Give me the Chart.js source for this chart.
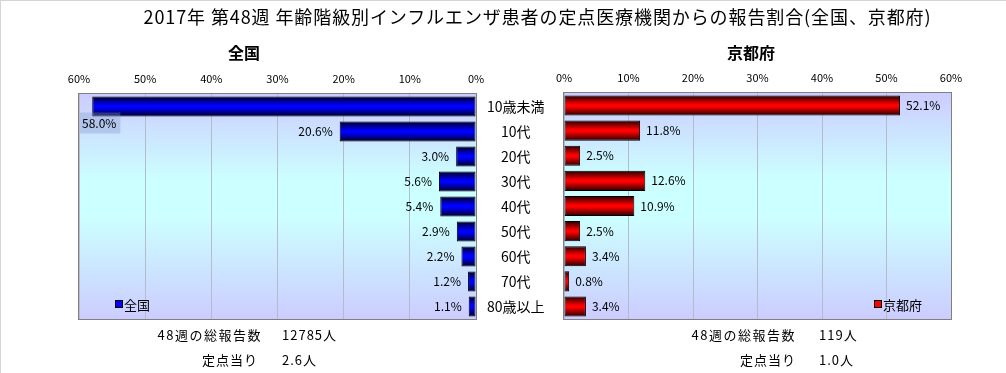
<!DOCTYPE html>
<html>
<head>
<meta charset="utf-8">
<script src="https://cdn.jsdelivr.net/npm/chart.js@4"></script>
<style>
  html, body { margin: 0; padding: 0; background: #fff; }
  body { width: 1006px; height: 373px; position: relative; overflow: hidden;
         font-family: "Noto Sans CJK JP", sans-serif; color: #000; }
  #frame { position: absolute; left: 0; top: 0; width: 1006px; height: 373px;
           border-top: 1px solid #d4d4d4; border-left: 1px solid #d4d4d4; box-sizing: border-box; }
  canvas { position: absolute; left: 0; top: 0; }
  .t { position: absolute; white-space: nowrap; line-height: 1; }
  .sq { display: inline-block; width: 6px; height: 6px; border: 1px solid #000; margin-right: 1px; vertical-align: 2px; }
</style>
</head>
<body>
<div id="frame"></div>
<canvas id="left" width="1006" height="373"></canvas>
<canvas id="right" width="1006" height="373"></canvas>

<div class="t" style="left:0;width:1075px;text-align:center;top:7px;font-size:18px;letter-spacing:0.9px;">2017年 第48週 年齢階級別インフルエンザ患者の定点医療機関からの報告割合(全国、京都府)</div>
<div class="t" style="left:228px;top:44px;font-size:16px;font-weight:bold;">全国</div>
<div class="t" style="left:727px;top:44px;font-size:16px;font-weight:bold;">京都府</div>

<div class="t" style="left:115px;top:298px;font-size:13px;"><span class="sq" style="background:#0000ff"></span>全国</div>
<div class="t" style="left:874px;top:298px;font-size:13px;"><span class="sq" style="background:#ff0000"></span>京都府</div>

<div class="t" style="right:744px;top:328px;font-size:13px;letter-spacing:1.5px;">48週の総報告数</div>
<div class="t" style="left:282px;top:328px;font-size:13px;letter-spacing:1px;">12785人</div>
<div class="t" style="right:748px;top:353px;font-size:13px;letter-spacing:1px;">定点当り</div>
<div class="t" style="left:282px;top:353px;font-size:13px;letter-spacing:1px;">2.6人</div>

<div class="t" style="right:210px;top:328px;font-size:13px;letter-spacing:1.5px;">48週の総報告数</div>
<div class="t" style="left:819px;top:328px;font-size:13px;letter-spacing:1px;">119人</div>
<div class="t" style="right:210px;top:353px;font-size:13px;letter-spacing:1px;">定点当り</div>
<div class="t" style="left:819px;top:353px;font-size:13px;letter-spacing:1px;">1.0人</div>

<script>
const ageGroups = ['10歳未満', '10代', '20代', '30代', '40代', '50代', '60代', '70代', '80歳以上'];
const nationalPct = [58.0, 20.6, 3.0, 5.6, 5.4, 2.9, 2.2, 1.2, 1.1];
const kyotoPct = [52.1, 11.8, 2.5, 12.6, 10.9, 2.5, 3.4, 0.8, 3.4];
const axisMax = 60;

const FONT = '"Noto Sans CJK JP", sans-serif';

// plot area background: lavender -> cyan -> lavender
const plotBg = {
  id: 'plotBg',
  beforeDraw(chart) {
    const { ctx, chartArea: a } = chart;
    const g = ctx.createLinearGradient(0, a.top, 0, a.bottom);
    g.addColorStop(0, '#ccccff');
    g.addColorStop(0.38, '#ccffff');
    g.addColorStop(0.55, '#ccffff');
    g.addColorStop(1, '#ccccff');
    ctx.save();
    ctx.fillStyle = g;
    ctx.fillRect(a.left, a.top, a.right - a.left, a.bottom - a.top);
    ctx.restore();
  },
  beforeDatasetsDraw(chart) {
    const { ctx, chartArea: a } = chart;
    ctx.save();
    ctx.strokeStyle = '#808080';
    ctx.lineWidth = 1;
    ctx.strokeRect(Math.round(a.left) - 0.5, Math.round(a.top) - 0.5, a.right - a.left + 1, a.bottom - a.top + 1);
    ctx.restore();
  }
};

// value labels at the end of each bar
const valueLabels = {
  id: 'valueLabels',
  afterDatasetsDraw(chart, args, opts) {
    const { ctx, chartArea: a } = chart;
    const meta = chart.getDatasetMeta(0);
    const data = chart.data.datasets[0].data;
    ctx.save();
    ctx.font = '12px ' + FONT;
    ctx.fillStyle = '#000';
    ctx.textBaseline = 'middle';
    meta.data.forEach((bar, i) => {
      const txt = data[i].toFixed(1) + '%';
      const w = ctx.measureText(txt).width;
      if (opts.side === 'left') {
        if (bar.x - 7 - w < a.left) {
          // no room: Excel puts it under the bar end with a box
          const top = bar.y + bar.height / 2 - 4;
          ctx.fillStyle = 'rgba(130,150,200,0.35)';
          ctx.fillRect(a.left + 1, top, w + 6, 21);
          ctx.fillStyle = '#000';
          ctx.textAlign = 'left';
          ctx.fillText(txt, a.left + 3, top + 11);
        } else {
          ctx.textAlign = 'right';
          ctx.fillText(txt, bar.x - 7, bar.y);
        }
      } else {
        ctx.textAlign = 'left';
        ctx.fillText(txt, bar.x + 6, bar.y);
      }
    });
    ctx.restore();
  }
};

function barFill(dark, bright) {
  return (c) => {
    const chart = c.chart;
    const y = chart.scales.y;
    if (!chart.chartArea || !y || c.dataIndex === undefined) return bright;
    const mid = y.getPixelForValue(c.dataIndex);
    const half = Math.abs(y.getPixelForValue(1) - y.getPixelForValue(0)) * 0.8 / 2;
    const g = chart.ctx.createLinearGradient(0, mid - half, 0, mid + half);
    g.addColorStop(0, dark);
    g.addColorStop(0.45, bright);
    g.addColorStop(0.55, bright);
    g.addColorStop(1, dark);
    return g;
  };
}

function makeChart(id, values, dark, bright, side) {
  const isLeft = side === 'left';
  return new Chart(document.getElementById(id), {
    type: 'bar',
    data: {
      labels: ageGroups,
      datasets: [{
        data: values,
        backgroundColor: barFill(dark, bright),
        borderColor: '#000',
        borderWidth: 1,
        borderSkipped: false,
        categoryPercentage: 1,
        barPercentage: 0.8
      }]
    },
    options: {
      indexAxis: 'y',
      responsive: false,
      animation: false,
      layout: {
        padding: isLeft
          ? { left: 79, right: 442, top: 72, bottom: 54 }
          : { left: 564, right: 55, top: 71, bottom: 54 }
      },
      scales: {
        x: {
          position: 'top',
          reverse: isLeft,
          min: 0,
          max: axisMax,
          ticks: {
            stepSize: 10,
            padding: 9,
            color: '#000',
            font: { family: FONT, size: 11 },
            callback: v => v + '%'
          },
          grid: { color: '#b4bccc', drawTicks: false },
          border: { display: false },
          afterFit(scale) { scale.height = 22; }
        },
        y: {
          display: isLeft,
          position: 'right',
          grid: { display: false },
          border: { display: false },
          ticks: {
            crossAlign: 'center',
            color: '#000',
            font: { family: FONT, size: 14 }
          },
          afterFit(scale) { scale.width = isLeft ? 88 : 0; }
        }
      },
      plugins: {
        legend: { display: false },
        tooltip: { enabled: false },
        valueLabels: { side: side }
      }
    },
    plugins: [plotBg, valueLabels]
  });
}

makeChart('left', nationalPct, '#000022', '#0000ff', 'left');
makeChart('right', kyotoPct, '#220000', '#ff0000', 'right');
</script>
</body>
</html>
